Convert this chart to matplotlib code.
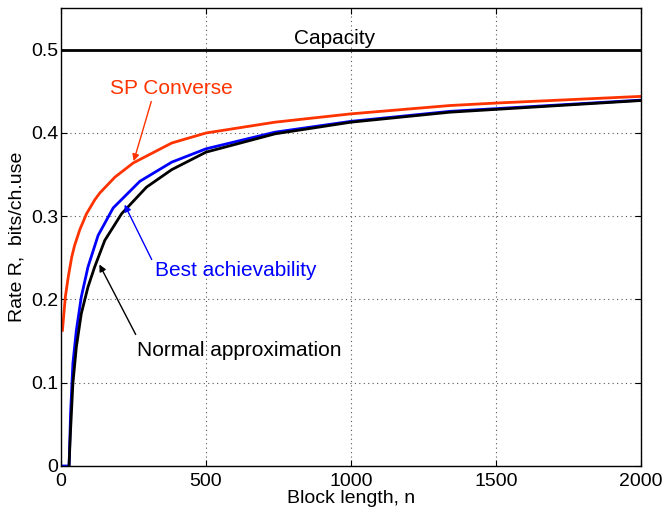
import matplotlib
matplotlib.use("Agg")
import matplotlib.pyplot as plt

# values
n_sp = [5, 15, 25, 37, 47, 65, 88, 117, 134, 186, 249, 382, 500, 738, 1000, 1341, 1502, 2000]
r_sp = [0.163, 0.203, 0.227, 0.251, 0.265, 0.284, 0.303, 0.320, 0.328, 0.347, 0.364,
        0.388, 0.400, 0.413, 0.423, 0.433, 0.436, 0.444]

n_ach = [5, 28, 33, 41, 53, 70, 93, 128, 180, 272, 382, 500, 738, 1000, 1341, 2000]
r_ach = [0, 0, 0.063, 0.123, 0.163, 0.203, 0.239, 0.277, 0.310, 0.342, 0.365,
         0.381, 0.401, 0.414, 0.426, 0.4395]

n_na = [27.6, 33, 41, 53, 70, 93, 116, 151, 209, 295, 382, 500, 738, 1000, 1341, 2000]
r_na = [0, 0.043, 0.099, 0.143, 0.183, 0.215, 0.239, 0.271, 0.303, 0.335, 0.356,
        0.377, 0.399, 0.413, 0.425, 0.439]

capacity = 0.5
n_range = [0, 2000]

xticks = [0, 500, 1000, 1500, 2000]
yticks = [0, 0.1, 0.2, 0.3, 0.4, 0.5]
ytick_labels = ["0", "0.1", "0.2", "0.3", "0.4", "0.5"]

red = "#ff3300"
blue = "#0000ff"

plt.rcParams.update({"font.family": ["Liberation Sans", "DejaVu Sans"], "font.size": 14})

fig = plt.figure(figsize=(6.68, 5.08), dpi=100)
ax = fig.add_axes([0.0913, 0.0827, 0.8683, 0.9013])

ax.plot(n_range, [capacity, capacity], color="black", linewidth=2)
ax.plot(n_sp, r_sp, color=red, linewidth=2)
ax.plot(n_ach, r_ach, color=blue, linewidth=2)
ax.plot(n_na, r_na, color="black", linewidth=2)

ax.set_xlim(0, 2000)
ax.set_ylim(0, 0.55)
ax.set_xticks(xticks)
ax.set_xticklabels([str(t) for t in xticks])
ax.set_yticks(yticks)
ax.set_yticklabels(ytick_labels)

ax.tick_params(axis="both", direction="in", length=4, top=True, right=True, pad=2)
ax.tick_params(axis="x", pad=5)
ax.grid(True, linestyle=(0, (1, 3)), color="#555555", linewidth=0.8)
for s in ax.spines.values():
    s.set_linewidth(1.0)

ax.set_xlabel("Block length, n", labelpad=0)
ax.set_ylabel("Rate R,  bits/ch.use", labelpad=4)

# annotations
fs = 15
ax.text(945, 0.513, "Capacity", ha="center", va="center", color="black", fontsize=fs)

ax.text(379, 0.453, "SP Converse", ha="center", va="center", color=red, fontsize=fs)
ax.annotate("", xy=(248, 0.363), xytext=(314, 0.441),
            arrowprops=dict(arrowstyle="-|>", color=red, lw=1, mutation_scale=10))

ax.text(324, 0.235, "Best achievability", ha="left", va="center", color=blue, fontsize=fs)
ax.annotate("", xy=(215, 0.317), xytext=(317, 0.245),
            arrowprops=dict(arrowstyle="-|>", color=blue, lw=1, mutation_scale=10))

ax.text(262, 0.139, "Normal approximation", ha="left", va="center", color="black", fontsize=fs)
ax.annotate("", xy=(128, 0.245), xytext=(262, 0.155),
            arrowprops=dict(arrowstyle="-|>", color="black", lw=1, mutation_scale=10))

fig.savefig("out.png", dpi=100)
